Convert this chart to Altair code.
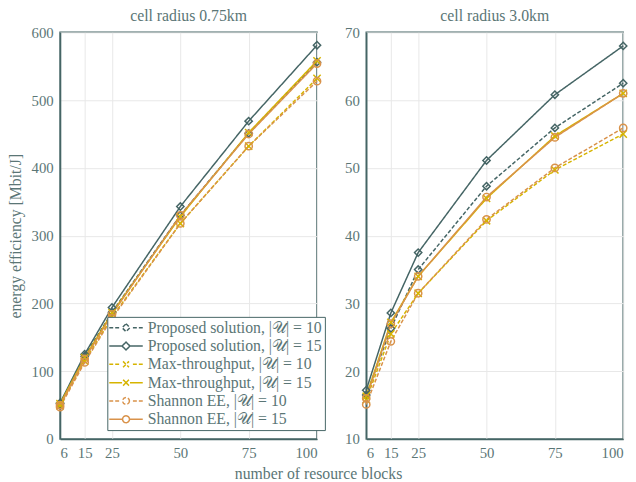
import altair as alt
import pandas as pd

rb = [6, 15, 25, 50, 75, 100]
series_names = [
    "Proposed solution, |𝒰| = 10",
    "Proposed solution, |𝒰| = 15",
    "Max-throughput, |𝒰| = 10",
    "Max-throughput, |𝒰| = 15",
    "Shannon EE, |𝒰| = 10",
    "Shannon EE, |𝒰| = 15",
]
# cell radius 0.75 km
left_vals = [
    [52, 122, 187, 330, 451, 556],
    [53, 125, 194, 343, 469, 581],
    [49, 115, 180, 318, 432, 532],
    [52, 120, 186, 328, 452, 558],
    [47, 113, 178, 318, 432, 528],
    [50, 118, 184, 330, 450, 554],
]
# cell radius 3.0 km
right_vals = [
    [16.5, 26.3, 35.0, 47.3, 55.9, 62.5],
    [17.2, 28.6, 37.5, 51.1, 60.8, 68.0],
    [15.8, 25.5, 31.5, 42.2, 49.7, 55.0],
    [16.3, 27.2, 34.0, 45.5, 54.7, 61.0],
    [15.1, 24.4, 31.5, 42.4, 50.0, 55.9],
    [16.0, 27.0, 34.0, 45.7, 54.5, 61.0],
]

SLATE = "#456565"
GOLD = "#d6b400"
ORANGE = "#d9924a"
TEXT = "#5b7676"
FONT = "Liberation Serif"

colors = [SLATE, SLATE, GOLD, GOLD, ORANGE, ORANGE]
dashes = [[4, 2], [1, 0], [4, 2], [1, 0], [4, 2], [1, 0]]
xpath = "M-1,-1L1,1M-1,1L1,-1"
shapes = ["diamond", "diamond", xpath, xpath, "circle", "circle"]

# legend symbols (line + marker), symbol size 196 -> 7 px per unit
dl = "M-2.43,0H-1.86M-1.57,0H-1M1,0H1.57M1.86,0H2.43"
sl = "M-2.43,0H-0.57M0.57,0H2.43"
dia = "M0,-0.57L0.57,0L0,0.57L-0.57,0Z"
crs = "M-0.43,-0.43L0.43,0.43M-0.43,0.43L0.43,-0.43"
cir = "M0.5,0A0.5,0.5 0 1,1 -0.5,0A0.5,0.5 0 1,1 0.5,0Z"
leg_paths = [dl + dia, sl + dia, dl + crs, sl + crs, dl + cir, sl + cir]
shape_expr = "[" + ",".join("'" + p + "'" for p in leg_paths) + "][datum.index]"


def make_df(vals):
    rows = []
    for name, v in zip(series_names, vals):
        for x, y in zip(rb, v):
            rows.append({"rb": x, "ee": y, "series": name})
    return pd.DataFrame(rows)


def panel(vals, title, ydom, yticks, ytitle, show_legend):
    df = make_df(vals)
    base = alt.Chart(df)
    xenc = alt.X("rb:Q", scale=alt.Scale(domain=[6, 100], nice=False),
                 axis=alt.Axis(values=rb, title=None))
    yenc = alt.Y("ee:Q", scale=alt.Scale(domain=ydom, nice=False),
                 axis=alt.Axis(values=yticks, title=ytitle))
    if show_legend:
        leg = alt.Legend(
            orient="none", legendX=48, legendY=289, title=None,
            symbolSize=196, symbolStrokeWidth=1.5, symbolOffset=8,
            labelOffset=14,
            symbolType=alt.ExprRef(shape_expr),
            symbolFillColor="white", symbolOpacity=1,
            rowPadding=2.6, padding=3, fillColor="white",
            strokeColor=SLATE, labelFont=FONT, labelFontSize=16,
            labelColor=TEXT, labelLimit=400,
        )
    else:
        leg = None
    lines = base.mark_line(strokeWidth=1.5).encode(
        x=xenc, y=yenc,
        color=alt.Color("series:N", scale=alt.Scale(domain=series_names, range=colors), legend=leg),
        strokeDash=alt.StrokeDash("series:N", scale=alt.Scale(domain=series_names, range=dashes), legend=None),
        order=alt.Order("rb:Q"),
    )
    points = base.mark_point(filled=False, strokeWidth=1.5, size=55, opacity=1).encode(
        x=xenc, y=yenc,
        color=alt.Color("series:N", scale=alt.Scale(domain=series_names, range=colors), legend=None),
        shape=alt.Shape("series:N", scale=alt.Scale(domain=series_names, range=shapes), legend=None),
    )
    return alt.layer(lines, points).properties(
        width=261, height=413,
        title=alt.TitleParams(title, font=FONT, fontSize=16, fontWeight="normal",
                              color=TEXT, offset=2),
    )


left = panel(left_vals, "cell radius 0.75km", [0, 600], [0, 100, 200, 300, 400, 500, 600],
             "energy efficiency [Mbit/J]", True)
right = panel(right_vals, "cell radius 3.0km", [10, 70], [10, 20, 30, 40, 50, 60, 70],
              None, False)

chart = alt.hconcat(left, right, spacing=17).resolve_scale(
    y="independent"
).resolve_legend(color="independent", strokeDash="independent").properties(
    background="white",
    padding={"left": 6, "top": 3, "right": 5, "bottom": 5},
    title=alt.TitleParams("number of resource blocks", orient="bottom", anchor="middle",
                          font=FONT, fontSize=16, fontWeight="normal", color=TEXT, offset=5),
).configure_view(
    stroke=SLATE, strokeWidth=1.5
).configure_axis(
    grid=True, gridColor="#e8e8e8", gridWidth=1,
    domainColor=SLATE, domainWidth=1.5,
    ticks=False, labelPadding=7,
    labelFont=FONT, labelFontSize=15, labelColor=TEXT,
    titleFont=FONT, titleFontSize=16, titleFontWeight="normal", titleColor=TEXT,
    titlePadding=8,
)

chart.save("out.html", embed_options={"renderer": "svg", "actions": False})
